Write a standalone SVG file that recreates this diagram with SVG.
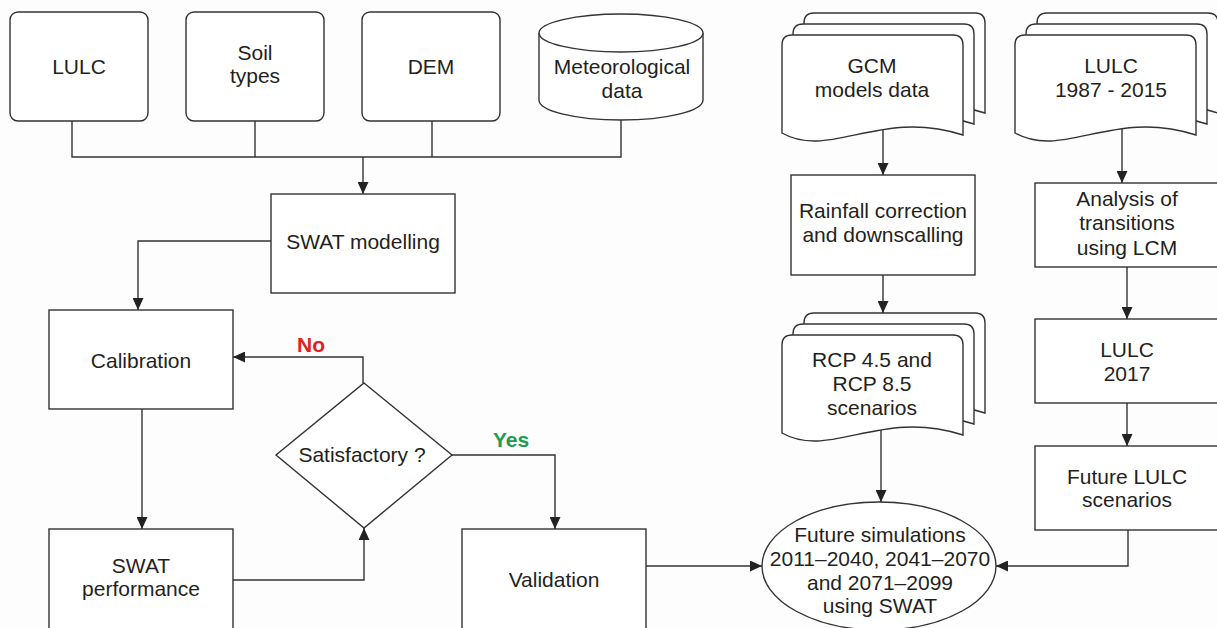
<svg xmlns="http://www.w3.org/2000/svg" xmlns:xlink="http://www.w3.org/1999/xlink" width="1217" height="628" viewBox="0 0 1217 628">
<style>
.n{fill:#ffffff;stroke:#333;stroke-width:1.4}
.t{font-family:"Liberation Sans",Arial,sans-serif;font-size:21px;fill:#231f20;text-anchor:middle}
.c{fill:none;stroke:#333;stroke-width:1.4}
.a{marker-end:url(#arr)}
.no{font-family:"Liberation Sans",Arial,sans-serif;font-size:21px;font-weight:bold;fill:#e3201b;text-anchor:middle}
.yes{font-family:"Liberation Sans",Arial,sans-serif;font-size:21px;font-weight:bold;fill:#1e9c4f;text-anchor:middle}
</style>
<defs>
<marker id="arr" markerWidth="12" markerHeight="11" refX="12" refY="5.5" orient="auto" markerUnits="userSpaceOnUse"><path d="M0,0 L12,5.5 L0,11 Z" fill="#222"/></marker>
<path id="doc" d="M0,98 V10 Q0,0 10,0 H171 Q181,0 181,10 V100 C98,73 48,125 0,98 Z"/>
</defs>
<rect width="1217" height="628" fill="#fdfdfd"/>

<g id="lulc">
<rect class="n" x="10" y="12" width="138" height="109" rx="8"/>
<text class="t" x="79" y="74">LULC</text>
</g>
<g id="soil">
<rect class="n" x="186" y="12" width="138" height="109" rx="8"/>
<text class="t" x="255" y="60">Soil</text>
<text class="t" x="255" y="83">types</text>
</g>
<g id="dem">
<rect class="n" x="362" y="12" width="138" height="109" rx="8"/>
<text class="t" x="431" y="74">DEM</text>
</g>
<g id="meteo">
<path class="n" d="M539,33 V100 A82,20 0 0 0 703,100 V33"/>
<ellipse class="n" cx="621" cy="33" rx="82" ry="19"/>
<text class="t" x="622" y="74">Meteorological</text>
<text class="t" x="622" y="98">data</text>
</g>
<g id="swat">
<rect class="n" x="271" y="194" width="184" height="99"/>
<text class="t" x="363" y="249">SWAT modelling</text>
</g>
<g id="calibration">
<rect class="n" x="49" y="310" width="184" height="99"/>
<text class="t" x="141" y="368">Calibration</text>
</g>
<g id="satisfactory">
<polygon class="n" points="364,383 452,455 364,528 276,455"/>
<text class="t" x="362" y="462">Satisfactory ?</text>
</g>
<g id="performance">
<rect class="n" x="49" y="529" width="184" height="112"/>
<text class="t" x="141" y="573">SWAT</text>
<text class="t" x="141" y="596">performance</text>
</g>
<g id="validation">
<rect class="n" x="462" y="529" width="184" height="112"/>
<text class="t" x="554" y="587">Validation</text>
</g>
<g id="gcm">
<use href="#doc" class="n" x="804" y="13"/>
<use href="#doc" class="n" x="793" y="24"/>
<use href="#doc" class="n" x="782" y="35"/>
<text class="t" x="872" y="73">GCM</text>
<text class="t" x="872" y="97">models data</text>
</g>
<g id="rainfall">
<rect class="n" x="791" y="175" width="184" height="100"/>
<text class="t" x="883" y="218">Rainfall correction</text>
<text class="t" x="883" y="242">and downscalling</text>
</g>
<g id="rcp">
<use href="#doc" class="n" x="804" y="313"/>
<use href="#doc" class="n" x="793" y="324"/>
<use href="#doc" class="n" x="782" y="335"/>
<text class="t" x="872" y="367">RCP 4.5 and</text>
<text class="t" x="872" y="391">RCP 8.5</text>
<text class="t" x="872" y="415">scenarios</text>
</g>
<g id="lulc8715">
<use href="#doc" class="n" x="1037" y="13"/>
<use href="#doc" class="n" x="1026" y="24"/>
<use href="#doc" class="n" x="1015" y="35"/>
<text class="t" x="1111" y="73">LULC</text>
<text class="t" x="1111" y="97">1987 - 2015</text>
</g>
<g id="analysis">
<rect class="n" x="1035" y="183" width="184" height="84"/>
<text class="t" x="1127" y="206">Analysis of</text>
<text class="t" x="1127" y="230">transitions</text>
<text class="t" x="1127" y="255">using LCM</text>
</g>
<g id="lulc2017">
<rect class="n" x="1035" y="319" width="184" height="84"/>
<text class="t" x="1127" y="357">LULC</text>
<text class="t" x="1127" y="381">2017</text>
</g>
<g id="futurelulc">
<rect class="n" x="1035" y="446" width="184" height="84"/>
<text class="t" x="1127" y="484">Future LULC</text>
<text class="t" x="1127" y="507">scenarios</text>
</g>
<g id="future">
<ellipse class="n" cx="879" cy="566" rx="117" ry="64"/>
<text class="t" x="880" y="542">Future simulations</text>
<text class="t" x="880" y="566">2011–2040, 2041–2070</text>
<text class="t" x="880" y="590">and 2071–2099</text>
<text class="t" x="880" y="613">using SWAT</text>
</g>

<g id="connectors">
<path class="c" d="M72,121 V157 H621 V120"/>
<path class="c" d="M255,121 V157"/>
<path class="c" d="M432,121 V157"/>
<path class="c a" d="M363,157 V194"/>
<path class="c a" d="M271,241 H138 V310"/>
<path class="c a" d="M142,409 V529"/>
<path class="c a" d="M233,580 H364 V528"/>
<path class="c a" d="M363,383 V357 H233"/>
<path class="c a" d="M452,455 H555 V529"/>
<path class="c a" d="M646,566 H762"/>
<path class="c a" d="M883,130 V175"/>
<path class="c a" d="M883,275 V313"/>
<path class="c a" d="M881,430 V502"/>
<path class="c a" d="M1122,129 V183"/>
<path class="c a" d="M1127,267 V319"/>
<path class="c a" d="M1127,403 V446"/>
<path class="c a" d="M1128,530 V566 H996"/>
<text class="no" x="311" y="352">No</text>
<text class="yes" x="511" y="447">Yes</text>
</g>
</svg>
